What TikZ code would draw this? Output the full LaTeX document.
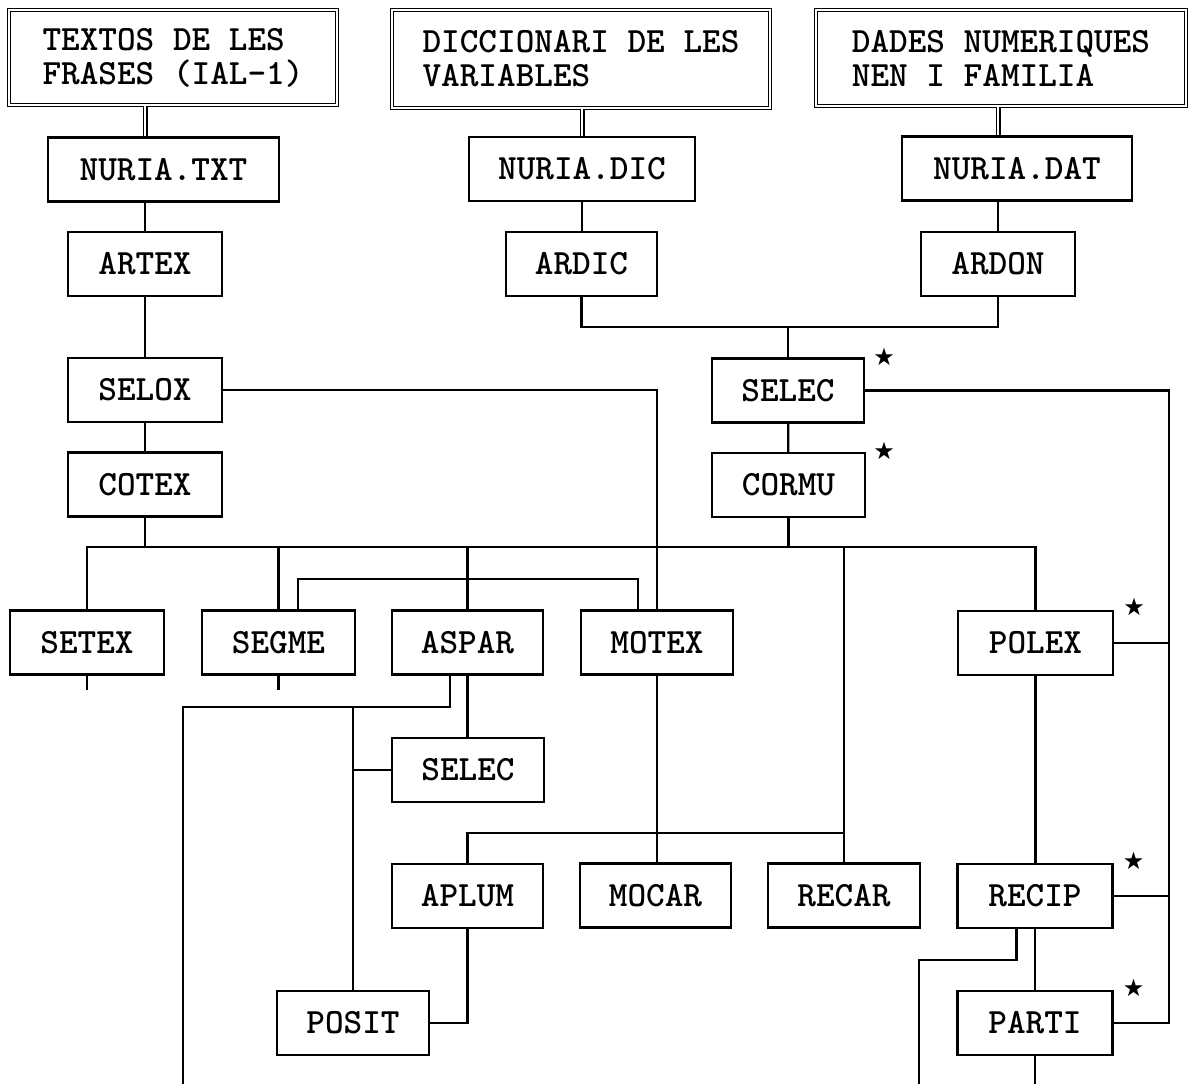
\documentclass[tikz,border=0pt]{standalone}
\usepackage{fontspec}
\newfontfamily\symfont{DejaVu Sans}
\newcommand{\boxfont}{\ttfamily\bfseries}
\begin{document}
\begin{tikzpicture}[x=1pt,y=-1pt,
  box/.style={draw, line width=2.2pt, inner sep=0pt, minimum height=64pt,
    font=\boxfont\fontsize{35.5}{34}\selectfont},
  dbox/.style={draw, double, line width=1.3pt, double distance=1.8pt, inner sep=0pt,
    align=left, font=\boxfont\fontsize{35.5}{34}\selectfont},
  conn/.style={line width=2.2pt},
  dconn/.style={double, line width=1.3pt, double distance=2.4pt},
  starmark/.style={font=\symfont\fontsize{24}{24}\selectfont, inner sep=0pt}
]
\useasboundingbox (0,0) rectangle (1189,1084);

% source boxes
\node[dbox, minimum width=327.8pt, minimum height=94.8pt] (T1) at (173,57.5) {TEXTOS DE LES\\FRASES (IAL-1)};
\node[dbox, minimum width=377.8pt, minimum height=97.8pt] (T2) at (581,59) {DICCIONARI DE LES\\VARIABLES};
\node[dbox, minimum width=369.8pt, minimum height=95.8pt] (T3) at (1001,58) {DADES NUMERIQUES\\NEN I FAMILIA};

% boxes
\node[box, minimum width=231pt] (NTXT) at (163.5,169.5) {NURIA.TXT};
\node[box, minimum width=226pt] (NDIC) at (582,169) {NURIA.DIC};
\node[box, minimum width=230pt] (NDAT) at (1017,168.5) {NURIA.DAT};
\node[box, minimum width=154pt] (ARTEX) at (145,264) {ARTEX};
\node[box, minimum width=151pt] (ARDIC) at (581.5,264) {ARDIC};
\node[box, minimum width=154pt] (ARDON) at (998,264) {ARDON};
\node[box, minimum width=154pt] (SELOX) at (145,390) {SELOX};
\node[box, minimum width=154pt] (COTEX) at (145,484.5) {COTEX};
\node[box, minimum width=152pt] (SELECa) at (788,390.5) {SELEC};
\node[box, minimum width=153pt] (CORMU) at (788.5,485) {CORMU};
\node[box, minimum width=154pt] (SETEX) at (87,642.5) {SETEX};
\node[box, minimum width=153pt] (SEGME) at (278.5,642.5) {SEGME};
\node[box, minimum width=151pt] (ASPAR) at (467.5,642.5) {ASPAR};
\node[box, minimum width=152pt] (MOTEX) at (657,642.5) {MOTEX};
\node[box, minimum width=155pt] (POLEX) at (1035.5,643) {POLEX};
\node[box, minimum width=152pt] (SELECb) at (468,770) {SELEC};
\node[box, minimum width=151pt] (APLUM) at (467.5,896) {APLUM};
\node[box, minimum width=151pt] (MOCAR) at (655.5,895.5) {MOCAR};
\node[box, minimum width=152pt] (RECAR) at (844,895.5) {RECAR};
\node[box, minimum width=155pt] (RECIP) at (1035,896) {RECIP};
\node[box, minimum width=152pt] (POSIT) at (353,1023) {POSIT};
\node[box, minimum width=155pt] (PARTI) at (1035,1023) {PARTI};

% asterisks
\node[starmark] (s1) at ([xshift=19pt,yshift=1pt]SELECa.north east) {★};
\node[starmark] (s2) at ([xshift=18pt,yshift=1pt]CORMU.north east) {★};
\node[starmark] (s3) at ([xshift=20pt,yshift=3pt]POLEX.north east) {★};
\node[starmark] (s4) at ([xshift=20pt,yshift=2pt]RECIP.north east) {★};
\node[starmark] (s5) at ([xshift=20pt,yshift=2pt]PARTI.north east) {★};

% helper coordinates
\coordinate (jA) at (0,327);
\coordinate (bus) at (0,547);
\coordinate (lk) at (0,579);
\coordinate (hA) at (0,707);
\coordinate (h8) at (0,833);
\coordinate (h9) at (0,960);
\coordinate (rail) at (1169,0);
\coordinate (endL) at (183,1084);
\coordinate (endR) at (919,1084);
\coordinate (stubA) at (0,690);

% double connectors
\draw[dconn] (ARTEX.north |- T1.south) -- (ARTEX.north |- NTXT.north);
\draw[dconn] (T2.south -| NDIC.north) -- (NDIC.north);
\draw[dconn] (ARDON.north |- T3.south) -- (ARDON.north |- NDAT.north);

% left column
\draw[conn] (ARTEX.north |- NTXT.south) -- (ARTEX.north);
\draw[conn] (ARTEX) -- (SELOX);
\draw[conn] (SELOX) -- (COTEX);
\draw[conn] (COTEX.south) -- (COTEX.south |- bus);

% middle / right top
\draw[conn] (NDIC.south) -- (NDIC.south |- ARDIC.north);
\draw[conn] (ARDON.north |- NDAT.south) -- (ARDON.north);
\draw[conn] (ARDIC.south) |- (ARDON.south |- jA) -- (ARDON.south);
\draw[conn] (SELECa.north |- jA) -- (SELECa.north);
\draw[conn] (SELECa) -- (CORMU);
\draw[conn] (CORMU.south) -- (CORMU.south |- bus);

% SELOX to MOTEX
\draw[conn] (SELOX.east) -- (SELOX.east -| MOTEX.north) -- (MOTEX.north);

% bus
\draw[conn] (SETEX.north) |- (POLEX.north |- bus) -- (POLEX.north);
\draw[conn] (SEGME.north) -- (SEGME.north |- bus);
\draw[conn] (ASPAR.north) -- (ASPAR.north |- bus);
\draw[conn] (RECAR.north) -- (RECAR.north |- bus);

% SEGME - MOTEX link
\draw[conn] ([xshift=19.5pt]SEGME.north) |- ([xshift=-19pt]MOTEX.north |- lk) -- ([xshift=-19pt]MOTEX.north);

% stubs
\draw[conn] (SETEX.south) -- (SETEX.south |- stubA);
\draw[conn] (SEGME.south) -- (SEGME.south |- stubA);

% ASPAR branches
\draw[conn] ([xshift=-17.5pt]ASPAR.south) |- (endL |- hA) -- (endL);
\draw[conn] (POSIT.north |- hA) -- (POSIT.north);
\draw[conn] (SELECb.west -| POSIT.north) -- (SELECb.west);
\draw[conn] (ASPAR.south) -- (ASPAR.south |- SELECb.north);

% MOTEX down
\draw[conn] (MOTEX.south) -- (MOTEX.south |- MOCAR.north);
\draw[conn] (APLUM.north) |- (RECAR.north |- h8);
\draw[conn] (APLUM.south) |- (POSIT.east);

% right column
\draw[conn] (POLEX.south) -- (POLEX.south |- RECIP.north);
\draw[conn] (RECIP) -- (PARTI);
\draw[conn] ([xshift=-18.5pt]RECIP.south) |- (endR |- h9) -- (endR);
\draw[conn] (PARTI.south) -- (PARTI.south |- endL);

% right rail
\draw[conn] (SELECa.east) -| (rail |- PARTI.east) -- (PARTI.east);
\draw[conn] (POLEX.east) -- (POLEX.east -| rail);
\draw[conn] (RECIP.east) -- (RECIP.east -| rail);
\end{tikzpicture}
\end{document}
